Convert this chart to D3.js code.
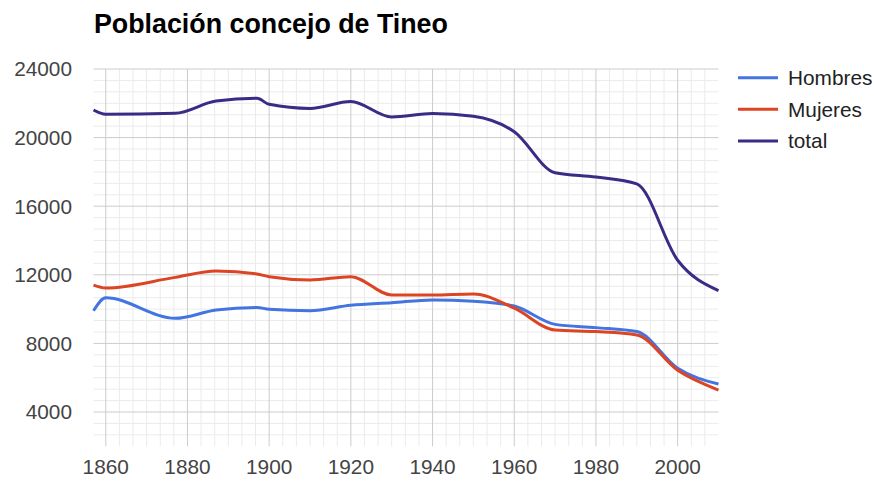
<!DOCTYPE html>
<html>
<head>
<meta charset="utf-8">
<script src="https://d3js.org/d3.v7.min.js"></script>
<style>
  body { margin: 0; background: #fff; }
  svg { display: block; font-family: Arial, "Liberation Sans", sans-serif; }
</style>
</head>
<body>
<div id="chart"></div>
<script>
// --- data ---
const years   = [1857, 1860, 1877, 1887, 1897, 1900, 1910, 1920, 1930, 1940, 1950, 1960, 1970, 1980, 1990, 2000, 2010];
const hombres = [9900, 10660, 9460, 9950, 10100, 9990, 9910, 10220, 10370, 10530, 10460, 10180, 9110, 8920, 8690, 6550, 5630];
const mujeres = [11400, 11230, 11850, 12220, 12050, 11890, 11700, 11890, 10820, 10820, 10880, 10050, 8780, 8690, 8490, 6430, 5280];
const total   = [21610, 21360, 21420, 22130, 22290, 21940, 21700, 22100, 21200, 21400, 21240, 20340, 17950, 17700, 17300, 12850, 11080];

const xTicks = [1860, 1880, 1900, 1920, 1940, 1960, 1980, 2000];
const yTicks = [4000, 8000, 12000, 16000, 20000, 24000];

const seriesNames = ["Hombres", "Mujeres", "total"];
const seriesColors = ["#4374e0", "#dc4424", "#3b2a86"];

const W = 874, H = 481;
const plot = { left: 93.5, right: 718.5, top: 69, bottom: 446.3 };

const svg = d3.select("#chart").append("svg").attr("width", W).attr("height", H);
svg.append("rect").attr("width", W).attr("height", H).attr("fill", "#fff");

const x = d3.scaleLinear().domain([1857, 2010]).range([plot.left, plot.right]);
const y = d3.scaleLinear().domain([2000, 24000]).range([plot.bottom, plot.top]);

const grid = svg.append("g");

// minor gridlines (6 per major interval)
const minorX = [];
for (let v = 1860 - 20 / 6; v <= 2010 + 0.01; v += 20 / 6) {
  if (v >= 1857 && v < 2009.9 && !xTicks.some(t => Math.abs(t - v) < 0.01)) minorX.push(v);
}
const minorY = [];
for (let v = 2000 + 4000 / 6; v < 24000; v += 4000 / 6) {
  if (!yTicks.some(t => Math.abs(t - v) < 1)) minorY.push(v);
}

grid.selectAll(".mx").data(minorX).enter().append("line")
  .attr("x1", d => x(d)).attr("x2", d => x(d))
  .attr("y1", plot.top).attr("y2", plot.bottom)
  .attr("stroke", "#ebebeb").attr("stroke-width", 1);
grid.selectAll(".my").data(minorY).enter().append("line")
  .attr("x1", plot.left).attr("x2", plot.right)
  .attr("y1", d => y(d)).attr("y2", d => y(d))
  .attr("stroke", "#ebebeb").attr("stroke-width", 1);

grid.selectAll(".gx").data(xTicks).enter().append("line")
  .attr("x1", d => x(d)).attr("x2", d => x(d))
  .attr("y1", plot.top).attr("y2", plot.bottom)
  .attr("stroke", "#cccccc").attr("stroke-width", 1);
grid.selectAll(".gy").data(yTicks).enter().append("line")
  .attr("x1", plot.left).attr("x2", plot.right)
  .attr("y1", d => y(d)).attr("y2", d => y(d))
  .attr("stroke", "#cccccc").attr("stroke-width", 1);

// axis labels
svg.append("g").selectAll("text").data(yTicks).enter().append("text")
  .attr("x", 72).attr("y", d => y(d)).attr("dy", "0.36em")
  .attr("text-anchor", "end").attr("font-size", 20.8).attr("fill", "#444")
  .text(d => d);

svg.append("g").selectAll("text").data(xTicks).enter().append("text")
  .attr("x", d => x(d)).attr("y", 474)
  .attr("text-anchor", "middle").attr("font-size", 20.8).attr("fill", "#444")
  .text(d => d);

// lines
const seriesData = [hombres, mujeres, total];
const line = d3.line()
  .x((d, i) => x(years[i]))
  .y(d => y(d))
  .curve(d3.curveMonotoneX);

svg.append("g").selectAll("path").data(seriesData).enter().append("path")
  .attr("d", d => line(d))
  .attr("fill", "none")
  .attr("stroke", (d, i) => seriesColors[i])
  .attr("stroke-width", 3)
  .attr("stroke-linejoin", "round");

// title
svg.append("text")
  .attr("x", 94).attr("y", 32.5)
  .attr("font-size", 26.8).attr("font-weight", "bold").attr("fill", "#000")
  .text("Población concejo de Tineo");

// legend
const legend = svg.append("g").selectAll("g").data(seriesNames).enter().append("g")
  .attr("transform", (d, i) => `translate(738,${77.7 + i * 31.6})`);
legend.append("line")
  .attr("x1", 0).attr("x2", 40)
  .attr("stroke", (d, i) => seriesColors[i]).attr("stroke-width", 3);
legend.append("text")
  .attr("x", 50).attr("dy", "0.36em")
  .attr("font-size", 20.8).attr("fill", "#222")
  .text(d => d);
</script>
</body>
</html>
